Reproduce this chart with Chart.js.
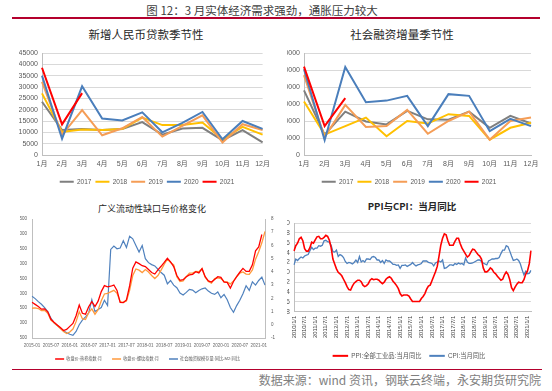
<!DOCTYPE html>
<html><head><meta charset="utf-8">
<script src="https://cdn.jsdelivr.net/npm/chart.js@4.4.1/dist/chart.umd.min.js"></script>
<style>
html,body{margin:0;padding:0;background:#fff;}
body{width:552px;height:391px;position:relative;overflow:hidden;font-family:"Noto Sans CJK SC","Liberation Sans",sans-serif;}
.t{position:absolute;white-space:nowrap;transform:translate(-50%,-50%);line-height:1;}
.ln{position:absolute;background:#b4002d;}
canvas{position:absolute;}
</style></head><body>
<div class="t" style="left:262px;top:11px;font-size:11.5px;color:#404040;">图 12：3 月实体经济需求强劲，通胀压力较大</div>
<div class="ln" style="left:12px;top:17px;width:528px;height:1.5px;"></div>
<div class="t" style="left:146px;top:35px;font-size:11.5px;color:#262626;">新增人民币贷款季节性</div>
<div class="t" style="left:402px;top:35px;font-size:11.5px;color:#262626;">社会融资增量季节性</div>
<div class="t" style="left:152px;top:208px;font-size:9px;color:#262626;">广义流动性缺口与价格变化</div>
<div class="t" style="left:412px;top:207px;font-size:9.5px;font-weight:bold;color:#262626;">PPI与CPI：当月同比</div>
<div class="ln" style="left:12px;top:368.5px;width:530px;height:1.3px;"></div>
<div style="position:absolute;right:11px;top:374px;font-size:12px;line-height:1;color:#808080;white-space:nowrap;">数据来源：wind 资讯，钢联云终端，永安期货研究院</div>
<script>
// ---------- DATA ----------
const months = ['1月','2月','3月','4月','5月','6月','7月','8月','9月','10月','11月','12月'];
const yearNames = ['2017','2018','2019','2020','2021'];
// 新增人民币贷款（亿元）
const loans2017 = [23500, 11000, 11500, 11000, 11500, 14500, 9000, 11700, 12000, 6500, 11000, 5600];
const loans2018 = [27200, 10200, 11300, 11000, 11500, 16500, 13200, 13200, 14300, 6900, 12400, 9000];
const loans2019 = [32300, 8900, 19800, 8700, 11800, 16800, 8100, 12900, 17500, 5500, 13600, 11000];
const loans2020 = [35000, 7200, 30300, 16100, 15200, 18800, 10000, 14200, 19000, 6900, 15000, 11500];
const loans2021 = [38500, 13500, 27300];
// 社会融资增量（亿元）
const tsf2017 = [38000, 12000, 25500, 19700, 18000, 26000, 21000, 20800, 25500, 16000, 23000, 18500];
const tsf2018 = [31500, 12000, 17000, 22000, 11000, 20000, 18500, 24000, 23000, 9000, 16000, 19000];
const tsf2019 = [47000, 10500, 29500, 16500, 17000, 26500, 12500, 20000, 25500, 9000, 20000, 22000];
const tsf2020 = [50500, 8700, 51800, 31000, 32000, 34800, 17000, 35800, 34800, 14000, 21300, 17000];
const tsf2021 = [52000, 17000, 33500];

// 广义流动性缺口与价格变化: 2015-01 .. 2021-03 monthly
const liqStartYear = 2015, liqCount = 75;
const hotCoil = [
  2700, 2630, 2560, 2470, 2480, 2380, 2130, 2030, 1940, 1850, 1750, 1790,
  1890, 1990, 2250, 2610, 2330, 2300, 2550, 2720, 2560, 2740, 3060, 3260,
  3220, 3240, 3280, 3100, 2700, 2690, 2780, 3250, 3850, 4060, 4000, 3930,
  3900, 3800, 3700, 3650, 3790, 3910, 4040, 4180, 4060, 3900, 3600, 3440,
  3460, 3560, 3620, 3640, 3730, 3690, 3830, 3560, 3420, 3380, 3470, 3560,
  3540, 3380, 3370, 3180, 3400, 3560, 3710, 3840, 3740, 3740, 3960, 4430,
  4560, 4980, null];
const rebar = [
  2500, 2510, 2490, 2420, 2430, 2330, 2100, 2010, 1920, 1820, 1720, 1650,
  1700, 1800, 2050, 2380, 2150, 2120, 2350, 2480, 2300, 2450, 2750, 2980,
  3000, 3050, 3100, 3000, 2720, 2700, 2740, 3100, 3600, 3820, 3780, 3700,
  3800, 3720, 3600, 3500, 3600, 3780, 3980, 4150, 4040, 3960, 3560, 3400,
  3420, 3560, 3680, 3680, 3740, 3730, 3830, 3540, 3400, 3340, 3500, 3520,
  3500, 3400, 3380, 3320, 3420, 3560, 3680, 3720, 3650, 3640, 3790, 4150,
  4400, 4700, 5080];
const tsfM2Gap = [
  2.15, 1.98, 1.75, 1.55, 1.3, 1.0, 0.5, 0.15, -0.05, -0.25, -0.45, -0.6,
  -0.72, -0.8, -0.5, 0.0, 0.35, 0.6, 0.9, 1.9, 1.0, 1.15, 1.3, 1.85,
  1.45, 5.7, 5.95, 5.75, 5.8, 6.35, 5.85, 6.7, 6.5, 6.0, 5.5, 6.0,
  5.0, 4.7, 4.55, 4.45, 4.2, 3.95, 3.75, 3.1, 3.35, 3.0, 2.8, 2.4,
  2.25, 2.45, 2.68, 2.62, 2.42, 2.6, 2.72, 2.78, 2.55, 2.38, 2.3, 2.48,
  2.05, 2.3, 1.9, 1.3, 0.95, 1.45, 1.85, 2.35, 2.95, 2.6, 3.25, 3.0,
  3.35, 3.6, 3.0];

// PPI / CPI 当月同比: 2010-01 .. 2021-03
const pcStartYear = 2010, pcCount = 135;
const ppi = [
  4.3, 5.4, 5.9, 6.8, 7.1, 6.4, 4.8, 4.3, 4.3, 5.0, 6.1, 5.9,
  6.6, 7.2, 7.3, 6.8, 6.8, 7.1, 7.5, 7.3, 6.5, 5.0, 2.7, 1.7,
  0.7, 0.0, -0.3, -0.7, -1.4, -2.1, -2.9, -3.5, -3.6, -2.8, -2.2, -1.9,
  -1.6, -1.6, -1.9, -2.6, -2.9, -2.7, -2.3, -1.6, -1.3, -1.5, -1.4, -1.4,
  -1.6, -2.0, -2.3, -2.0, -1.4, -1.1, -0.9, -1.2, -1.8, -2.2, -2.7, -3.3,
  -4.3, -4.8, -4.6, -4.6, -4.6, -4.8, -5.4, -5.9, -5.9, -5.9, -5.9, -5.9,
  -5.3, -4.9, -4.3, -3.4, -2.8, -2.6, -1.7, -0.8, 0.1, 1.2, 3.3, 5.5,
  6.9, 7.8, 7.6, 6.4, 5.5, 5.5, 5.5, 6.3, 6.9, 6.9, 5.8, 4.9,
  4.3, 3.7, 3.1, 3.4, 4.1, 4.7, 4.6, 4.1, 3.6, 3.3, 2.7, 0.9,
  0.1, 0.1, 0.4, 0.9, 0.6, 0.0, -0.3, -0.8, -1.2, -1.6, -1.4, -0.5,
  0.1, -0.4, -1.5, -3.1, -3.7, -3.0, -2.4, -2.0, -2.1, -2.1, -1.5, -0.4,
  0.3, 1.7, 4.4];
const cpi = [
  1.5, 2.7, 2.4, 2.8, 3.1, 2.9, 3.3, 3.5, 3.6, 4.4, 5.1, 4.6,
  4.9, 4.9, 5.4, 5.3, 5.5, 6.4, 6.5, 6.2, 6.1, 5.5, 4.2, 4.1,
  4.5, 3.2, 3.6, 3.4, 3.0, 2.2, 1.8, 2.0, 1.9, 1.7, 2.0, 2.5,
  2.0, 3.2, 2.1, 2.4, 2.1, 2.7, 2.7, 2.6, 3.1, 3.2, 3.0, 2.5,
  2.5, 2.0, 2.4, 1.8, 2.5, 2.3, 2.3, 2.0, 1.6, 1.6, 1.4, 1.5,
  0.8, 1.4, 1.4, 1.5, 1.2, 1.4, 1.6, 2.0, 1.6, 1.3, 1.5, 1.6,
  1.8, 2.3, 2.3, 2.3, 2.0, 1.9, 1.8, 1.3, 1.9, 2.1, 2.3, 2.1,
  2.5, 0.8, 0.9, 1.2, 1.5, 1.5, 1.4, 1.8, 1.6, 1.9, 1.7, 1.8,
  1.5, 2.9, 2.1, 1.8, 1.8, 1.9, 2.1, 2.3, 2.5, 2.5, 2.2, 1.9,
  1.7, 1.5, 2.3, 2.5, 2.7, 2.7, 2.8, 2.8, 3.0, 3.8, 4.5, 4.5,
  5.4, 5.2, 4.3, 3.3, 2.4, 2.5, 2.7, 2.4, 1.7, 0.5, -0.5, 0.2,
  -0.3, -0.2, 0.4];

// category labels
const liqLabels = [];
for (let i = 0; i < liqCount; i++) {
  const y = liqStartYear + Math.floor(i / 12), m = i % 12 + 1;
  liqLabels.push(y + '-' + String(m).padStart(2, '0'));
}
const pcLabels = [];
for (let i = 0; i < pcCount; i++) {
  const y = pcStartYear + Math.floor(i / 12), m = i % 12 + 1;
  pcLabels.push(y + '/' + m + '/1');
}

// ---------- HELPERS ----------
const FONT = '"Liberation Sans","Noto Sans CJK SC",sans-serif';
Chart.defaults.font.family = FONT;
Chart.defaults.color = '#595959';
const plain = v => String(v);
function mk(left, top, w, h) {
  const c = document.createElement('canvas');
  c.width = w; c.height = h;
  c.style.left = left + 'px'; c.style.top = top + 'px';
  c.style.width = w + 'px'; c.style.height = h + 'px';
  document.body.appendChild(c);
  return c;
}
function ds(label, data, color, width, order, axis) {
  const d = {label, data, borderColor: color, backgroundColor: color, borderWidth: width,
    pointRadius: 0, pointHoverRadius: 0, fill: false, tension: 0, order};
  if (axis) d.yAxisID = axis;
  return d;
}
function legendLabels(fontSize, boxW, boxH, pad) {
  return {
    boxWidth: boxW, boxHeight: boxH, padding: pad, color: '#595959',
    font: {size: fontSize, family: FONT},
    sort: (a, b) => a.datasetIndex - b.datasetIndex,
    generateLabels: (chart) => Chart.defaults.plugins.legend.labels.generateLabels(chart)
      .map(l => Object.assign(l, {lineWidth: 0, fillStyle: l.strokeStyle}))
  };
}
const seasonColors = ['#7f7f7f', '#ffc000', '#f59d56', '#4a7ebb', '#ff0000'];

function seasonal(canvas, series, yMax, yStep, padL, padR, yW) {
  return new Chart(canvas, {
    type: 'line',
    data: {
      labels: months,
      datasets: series.map((s, i) => ds(yearNames[i], s, seasonColors[i], 2, 5 - i))
    },
    options: {
      responsive: false, animation: false, events: [],
      layout: {padding: {left: padL, right: padR, top: 33, bottom: 0}},
      plugins: {
        legend: {position: 'bottom', labels: legendLabels(6.5, 14, 2, 4)},
        title: {display: false}, tooltip: {enabled: false}
      },
      scales: {
        x: {offset: false, grid: {display: false, drawTicks: false},
            border: {display: true, color: '#bfbfbf'},
            ticks: {font: {size: 7}, padding: 5, maxRotation: 0, autoSkip: false},
            afterFit: s => { s.height = 19.5; }},
        y: {min: 0, max: yMax,
            ticks: {stepSize: yStep, font: {size: 7}, padding: 4, callback: plain, autoSkip: false},
            grid: {color: '#d9d9d9', drawTicks: false},
            border: {display: true, color: '#bfbfbf'},
            afterFit: s => { s.width = yW; }}
      }
    }
  });
}

// ---------- CHARTS ----------
seasonal(mk(0, 20, 275, 175), [loans2017, loans2018, loans2019, loans2020, loans2021], 45000, 5000, 19, 0, 23);
seasonal(mk(275, 20, 277, 175), [tsf2017, tsf2018, tsf2019, tsf2020, tsf2021], 60000, 10000, 12, 21, 17);

new Chart(mk(0, 195, 275, 176), {
  type: 'line',
  data: {
    labels: liqLabels,
    datasets: [
      ds('收盘价:热卷指数:月', hotCoil, '#ff0000', 1.3, 1, 'y'),
      ds('收盘价:螺纹指数:月', rebar, '#ff9a3c', 1.3, 2, 'y'),
      ds('社会融资规模存量:同比-M2:同比', tsfM2Gap, '#4f81bd', 1.2, 3, 'y1')
    ]
  },
  options: {
    responsive: false, animation: false, events: [],
    layout: {padding: {left: 20, right: 0, top: 24, bottom: 0}},
    plugins: {
      legend: {position: 'bottom', labels: legendLabels(4.2, 9, 1.5, 10)},
      title: {display: false}, tooltip: {enabled: false}
    },
    scales: {
      x: {offset: false, grid: {display: false, drawTicks: false},
          border: {display: true, color: '#bfbfbf'},
          ticks: {font: {size: 4.5}, padding: 5.5, maxRotation: 0, autoSkip: false,
                  callback: function (v, i) { return i % 6 === 0 ? liqLabels[i] : ''; }},
          afterFit: s => { s.height = 8.8; }},
      y: {position: 'left', min: 1500, max: 5500,
          ticks: {stepSize: 500, font: {size: 4.5}, padding: 5, callback: plain, autoSkip: false},
          grid: {display: false, drawTicks: false},
          border: {display: true, color: '#bfbfbf'},
          afterFit: s => { s.width = 12; }},
      y1: {position: 'right', min: -1, max: 8,
          ticks: {stepSize: 1, font: {size: 4.5}, padding: 6, callback: plain, autoSkip: false},
          grid: {display: false, drawTicks: false},
          border: {display: true, color: '#bfbfbf'},
          afterFit: s => { s.width = 10; }}
    }
  }
});

new Chart(mk(275, 195, 277, 174), {
  type: 'line',
  data: {
    labels: pcLabels,
    datasets: [
      ds('PPI:全部工业品:当月同比', ppi, '#ff0000', 1.6, 1),
      ds('CPI:当月同比', cpi, '#4f81bd', 1.3, 2)
    ]
  },
  options: {
    responsive: false, animation: false, events: [],
    layout: {padding: {left: 12, right: 21, top: 28, bottom: 0}},
    plugins: {
      legend: {position: 'bottom', labels: legendLabels(6.3, 15.5, 2, 7.7)},
      title: {display: false}, tooltip: {enabled: false}
    },
    scales: {
      x: {offset: false, grid: {display: false, drawTicks: false},
          border: {display: true, color: '#bfbfbf'},
          ticks: {font: {size: 5.8}, color: '#404040', padding: 4, minRotation: 90, maxRotation: 90, autoSkip: false,
                  callback: function (v, i) { return i % 6 === 0 ? pcLabels[i] : ''; }},
          afterFit: s => { s.height = 33.2; }},
      y: {min: -8, max: 10,
          ticks: {stepSize: 2, font: {size: 7}, padding: 4, callback: plain, autoSkip: false},
          grid: {color: '#d9d9d9', drawTicks: false},
          border: {display: true, color: '#bfbfbf'},
          afterFit: s => { s.width = 7; }}
    }
  }
});
</script>
</body></html>
